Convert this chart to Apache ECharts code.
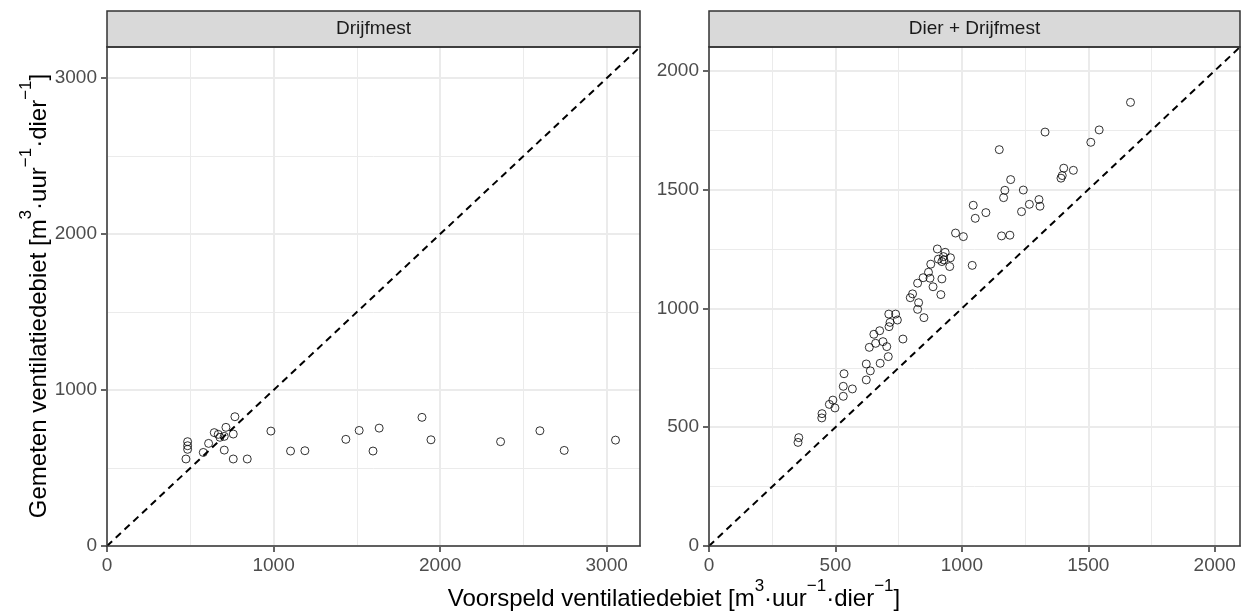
<!DOCTYPE html>
<html>
<head>
<meta charset="utf-8">
<title>Voorspeld vs gemeten ventilatiedebiet</title>
<script src="https://cdn.jsdelivr.net/npm/echarts@6.0.0/dist/echarts.min.js"></script>
<style>
    html, body { margin: 0; padding: 0; background: #fff; }
    #main { width: 1249px; height: 611px; }
</style>
</head>
<body>
<div id="main"></div>
<script>
// Drijfmest: voorspeld (x) en gemeten (y)
var drijfVoorspeld = [484, 484, 484, 474, 578, 610, 644, 668, 678, 704, 714, 758, 768, 704, 758, 842,
    984, 1102, 1188, 1434, 1514, 1634, 1597, 1891, 1945, 2363, 2599, 2745, 3053];
var drijfGemeten = [669, 643, 620, 558, 600, 658, 727, 716, 697, 703, 761, 718, 829, 615, 558, 558,
    737, 609, 611, 684, 741, 756, 609, 825, 681, 669, 739, 613, 679];

// Dier + Drijfmest
var dierVoorspeld = [1667, 1329, 1543, 1510, 1148, 1403, 1441, 1397, 1392, 1193, 1170, 1243, 1165, 1305,
    1309, 1267, 1236, 1045, 1053, 1095, 1006, 1157, 1190, 1041, 975, 903, 934, 927, 955, 907, 929, 921,
    952, 877, 868, 847, 874, 921, 825, 886, 917, 805, 796, 829, 825, 850, 711, 738, 716, 712, 745, 767,
    675, 652, 659, 688, 703, 634, 709, 622, 677, 638, 622, 534, 531, 567, 531, 490, 476, 498, 447, 446,
    355, 352];
var dierGemeten = [1867, 1742, 1751, 1699, 1668, 1590, 1581, 1559, 1548, 1542, 1497, 1498, 1466, 1458,
    1430, 1438, 1407, 1434, 1379, 1403, 1302, 1305, 1308, 1181, 1317, 1250, 1236, 1218, 1213, 1207, 1204,
    1197, 1176, 1186, 1152, 1129, 1127, 1124, 1106, 1091, 1058, 1061, 1045, 1024, 996, 961, 976, 976, 941,
    923, 951, 871, 906, 891, 853, 860, 839, 836, 797, 766, 769, 737, 699, 725, 672, 661, 630, 614, 596,
    581, 557, 539, 456, 436];

var panelTitles = ['Drijfmest', 'Dier + Drijfmest'];
var ticksLeft = [0, 1000, 2000, 3000];
var minorLeft = [500, 1500, 2500];
var ticksRight = [0, 500, 1000, 1500, 2000];
var minorRight = [250, 750, 1250, 1750];
var limitLeft = [0, 3200];
var limitRight = [0, 2100];

var fontName = 'Liberation Sans, Arial, sans-serif';

function zip(xs, ys) {
    var out = [];
    for (var i = 0; i < xs.length; i++) {
        out.push([xs[i], ys[i]]);
    }
    return out;
}

// as met labels en ticks, rasterlijnen komen via markLine
function panelAxis(gridIndex, limit, step, ticks, pos) {
    return {
        type: 'value', gridIndex: gridIndex, position: pos,
        min: limit[0], max: limit[1], interval: step,
        axisLine: {show: true, onZero: false, lineStyle: {color: '#333333', width: 1.5}},
        axisTick: {show: true, length: 6, customValues: ticks, lineStyle: {color: '#333333', width: 1.5}},
        axisLabel: {
            customValues: ticks, margin: 10,
            color: '#4d4d4d', fontSize: 19, fontFamily: fontName,
            formatter: function (v) { return String(v); }
        },
        splitLine: {show: false}
    };
}

function gridLines(major, minor) {
    var lines = [];
    var minorStyle = {color: '#ebebeb', width: 1, type: 'solid'};
    var majorStyle = {color: '#ebebeb', width: 2, type: 'solid'};
    minor.forEach(function (v) {
        lines.push({xAxis: v, lineStyle: minorStyle});
        lines.push({yAxis: v, lineStyle: minorStyle});
    });
    major.forEach(function (v) {
        lines.push({xAxis: v, lineStyle: majorStyle});
        lines.push({yAxis: v, lineStyle: majorStyle});
    });
    return lines;
}

function identity(limit) {
    return [[limit[0], limit[0]], [limit[1], limit[1]]];
}

var grids = [
    {left: 107, top: 47, width: 533, height: 499},
    {left: 709, top: 47, width: 531, height: 499}
];

var titleRich = {
    a: {fontSize: 24, lineHeight: 42, fontFamily: fontName, fill: '#000'},
    s: {fontSize: 17, verticalAlign: 'top', fontFamily: fontName, fill: '#000'}
};

function stripGraphics(g, text) {
    return [
        {
            type: 'rect', z: 90,
            shape: {x: g.left, y: 11, width: g.width, height: g.top - 11},
            style: {fill: '#d9d9d9', stroke: '#333333', lineWidth: 1.5}
        },
        {
            type: 'text', z: 91, x: g.left + g.width / 2, y: (11 + g.top) / 2,
            style: {text: text, fill: '#1a1a1a', fontSize: 19, fontFamily: fontName, align: 'center', verticalAlign: 'middle'}
        },
        {
            type: 'rect', z: 100,
            shape: {x: g.left, y: g.top, width: g.width, height: g.height},
            style: {fill: 'none', stroke: '#333333', lineWidth: 1.5}
        }
    ];
}

function gridSeries(axisIndex, limit, major, minor) {
    return {
        type: 'line', xAxisIndex: axisIndex, yAxisIndex: axisIndex, z: 1, silent: true,
        symbol: 'none', data: identity(limit),
        lineStyle: {opacity: 0},
        markLine: {
            z: 1, silent: true, symbol: ['none', 'none'], animation: false,
            label: {show: false},
            data: gridLines(major, minor)
        }
    };
}

function identitySeries(axisIndex, limit) {
    return {
        type: 'line', xAxisIndex: axisIndex, yAxisIndex: axisIndex, z: 6, silent: true,
        symbol: 'none', data: identity(limit),
        lineStyle: {color: '#000', width: 2, type: [7, 5]}
    };
}

function pointSeries(name, axisIndex, xs, ys) {
    return {
        name: name, type: 'scatter', xAxisIndex: axisIndex, yAxisIndex: axisIndex, z: 7,
        symbol: 'circle', symbolSize: 8,
        itemStyle: {color: 'rgba(0,0,0,0)', borderColor: '#000', borderWidth: 1},
        data: zip(xs, ys)
    };
}

var myChart = echarts.init(document.getElementById('main'));

var option = {
    animation: false,
    backgroundColor: '#ffffff',
    grid: grids,
    xAxis: [
        panelAxis(0, limitLeft, 1000, ticksLeft, 'bottom'),
        panelAxis(1, limitRight, 500, ticksRight, 'bottom')
    ],
    yAxis: [
        panelAxis(0, limitLeft, 1000, ticksLeft, 'left'),
        panelAxis(1, limitRight, 500, ticksRight, 'left')
    ],
    series: [
        gridSeries(0, limitLeft, ticksLeft, minorLeft),
        gridSeries(1, limitRight, ticksRight, minorRight),
        identitySeries(0, limitLeft),
        identitySeries(1, limitRight),
        pointSeries(panelTitles[0], 0, drijfVoorspeld, drijfGemeten),
        pointSeries(panelTitles[1], 1, dierVoorspeld, dierGemeten)
    ],
    graphic: stripGraphics(grids[0], panelTitles[0])
        .concat(stripGraphics(grids[1], panelTitles[1]))
        .concat([
            {
                type: 'text', z: 100, x: 674, y: 599,
                style: {
                    text: '{a|Voorspeld ventilatiedebiet [m}{s|3}{a|·uur}{s|−1}{a|·dier}{s|−1}{a|]}',
                    rich: titleRich, align: 'center', verticalAlign: 'middle'
                }
            },
            {
                type: 'text', z: 100, x: 39, y: 296, rotation: Math.PI / 2,
                style: {
                    text: '{a|Gemeten ventilatiedebiet [m}{s|3}{a|·uur}{s|−1}{a|·dier}{s|−1}{a|]}',
                    rich: titleRich, align: 'center', verticalAlign: 'middle'
                }
            }
        ])
};

myChart.setOption(option);
</script>
</body>
</html>
